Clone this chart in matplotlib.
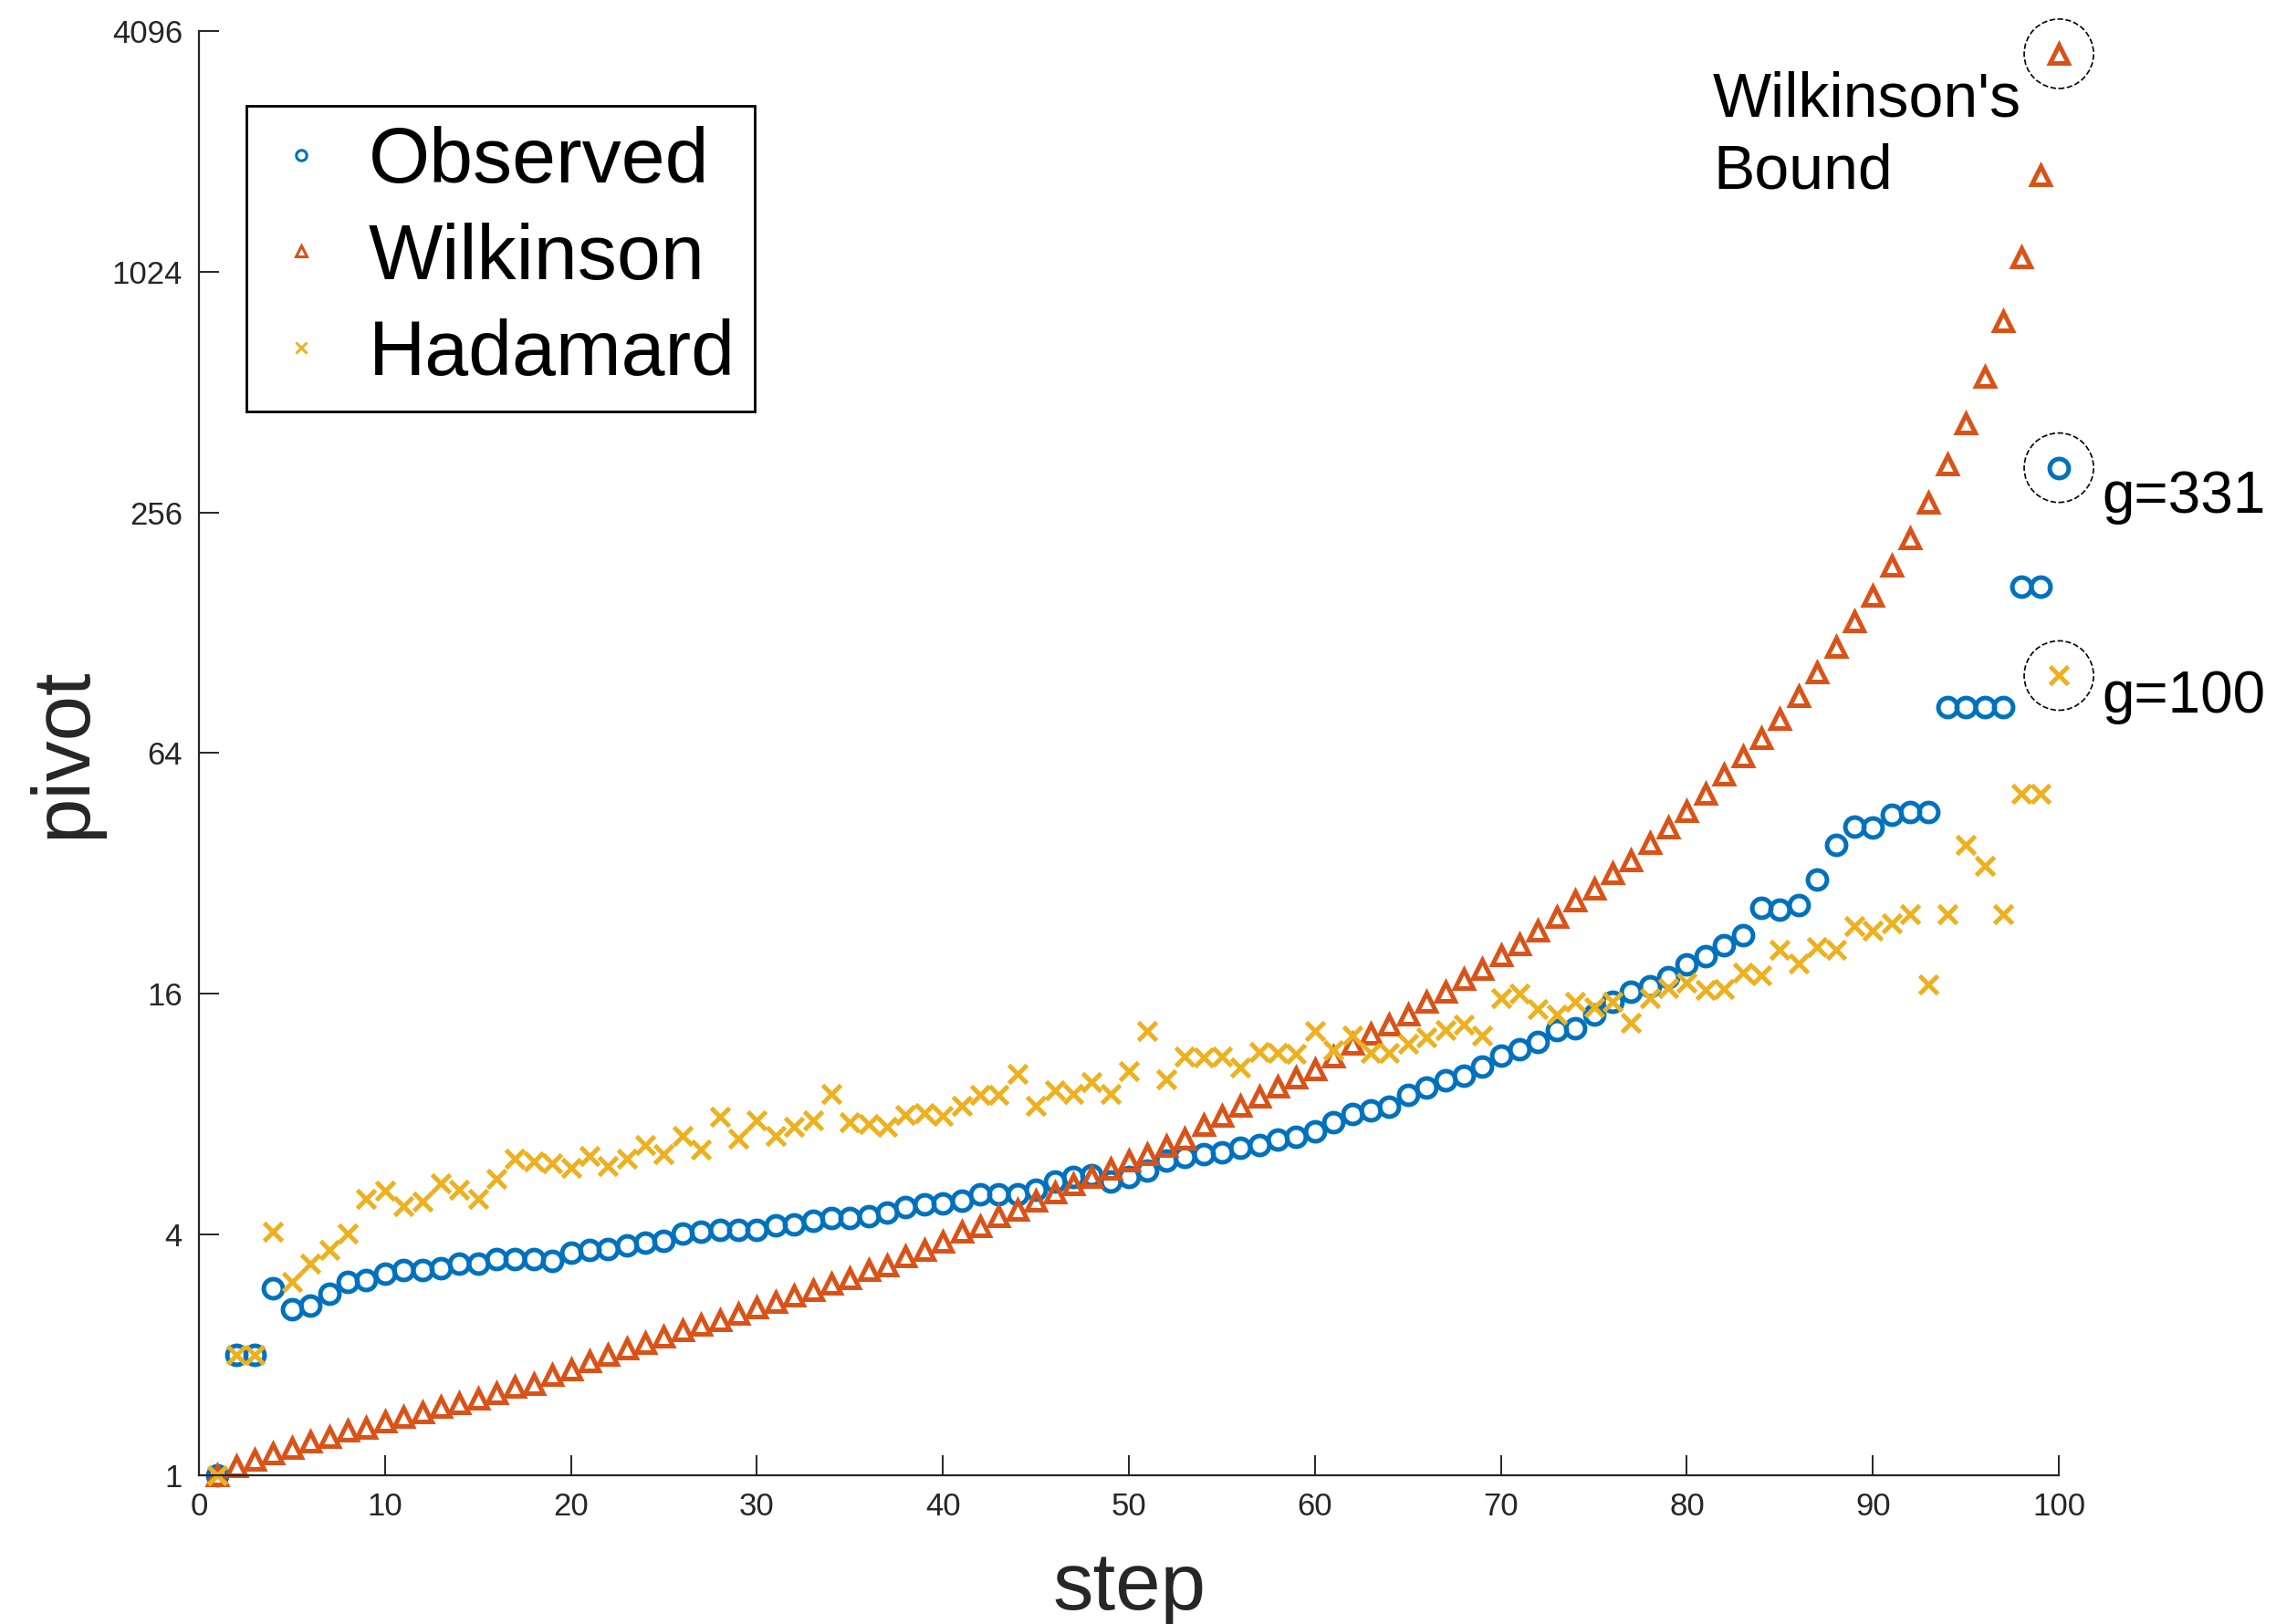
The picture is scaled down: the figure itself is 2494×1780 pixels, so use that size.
import matplotlib
matplotlib.use("Agg")
import matplotlib.pyplot as plt

plt.rcParams['font.family'] = ['Liberation Sans', 'DejaVu Sans']

# pivot size at each elimination step
steps = list(range(1, 101))

observed = [
    1, 2, 2, 2.94, 2.60, 2.65, 2.84, 3.04, 3.07, 3.20,
    3.26, 3.26, 3.29, 3.38, 3.38, 3.47, 3.47, 3.47, 3.43, 3.60,
    3.66, 3.68, 3.76, 3.82, 3.86, 4.03, 4.06, 4.10, 4.10, 4.10,
    4.21, 4.25, 4.32, 4.40, 4.40, 4.44, 4.55, 4.68, 4.76, 4.79,
    4.87, 5.05, 5.05, 5.05, 5.19, 5.43, 5.58, 5.62, 5.43, 5.58,
    5.79, 6.12, 6.24, 6.36, 6.41, 6.59, 6.71, 6.90, 7.03, 7.24,
    7.63, 8.02, 8.19, 8.35, 8.96, 9.33, 9.71, 10.0, 10.5, 11.2,
    11.6, 12.1, 13.0, 13.1, 14.2, 15.3, 16.2, 16.7, 17.6, 19.0,
    19.9, 21.2, 22.4, 26.3, 26.0, 26.7, 30.9, 37.8, 42.0, 41.6,
    44.9, 45.5, 45.5, 83.2, 83.2, 83.2, 83.2, 167, 167, 331,
]

wilkinson = [
    1, 1.055, 1.094, 1.133, 1.173, 1.214, 1.247, 1.292, 1.314, 1.360,
    1.397, 1.434, 1.484, 1.512, 1.552, 1.607, 1.664, 1.693, 1.778, 1.840,
    1.932, 2.0, 2.07, 2.145, 2.222, 2.30, 2.382, 2.445, 2.531, 2.624,
    2.717, 2.813, 2.898, 3.017, 3.117, 3.265, 3.352, 3.531, 3.658, 3.837,
    4.056, 4.196, 4.435, 4.602, 4.864, 5.091, 5.334, 5.583, 5.848, 6.122,
    6.355, 6.653, 6.964, 7.501, 7.923, 8.376, 8.852, 9.357, 9.885, 10.34,
    11.12, 11.99, 12.73, 13.39, 14.22, 15.26, 16.21, 17.39, 18.48, 20.01,
    21.26, 23.04, 24.97, 27.34, 29.33, 32.11, 34.44, 38.08, 41.67, 45.89,
    50.57, 56.42, 62.81, 69.89, 77.8, 89.0, 101.8, 117.9, 136.6, 158.7,
    188, 221, 271, 338, 428, 559, 770, 1113, 1783, 3590,
]

hadamard = [
    1, 2, 2, 4.06, 3.04, 3.38, 3.66, 4.03, 4.92, 5.15,
    4.71, 4.84, 5.38, 5.19, 4.92, 5.52, 6.19, 6.08, 6.02, 5.87,
    6.29, 5.92, 6.19, 6.69, 6.35, 7.05, 6.52, 7.90, 6.93, 7.70,
    7.05, 7.43, 7.70, 9.01, 7.63, 7.56, 7.43, 7.97, 8.04, 7.91,
    8.39, 8.93, 8.93, 10.07, 8.38, 9.18, 9.01, 9.61, 9.01, 10.25,
    12.92, 9.79, 11.14, 11.08, 11.14, 10.45, 11.46, 11.39, 11.31, 12.92,
    11.55, 12.61, 11.40, 11.40, 11.99, 12.48, 13.0, 13.39, 12.61, 15.57,
    16.06, 14.65, 14.22, 15.26, 14.83, 15.26, 13.53, 15.57, 16.54, 17.04,
    16.37, 16.45, 18.08, 17.83, 20.66, 19.07, 20.94, 20.66, 23.62, 22.99,
    23.95, 25.26, 16.90, 25.26, 37.77, 33.45, 25.26, 50.71, 50.71, 100,
]

x_ticks = [0, 10, 20, 30, 40, 50, 60, 70, 80, 90, 100]
y_ticks = [1, 4, 16, 64, 256, 1024, 4096]

blue = '#0072BD'
orange = '#D95319'
yellow = '#EDB120'
ink = '#262626'

fig = plt.figure(figsize=(24.94, 17.80), dpi=100)
ax = fig.add_axes([0.0874, 0.0916, 0.8172, 0.8894])

ax.plot(steps, observed, 'o', ls='none', ms=15, mew=3.6, mfc='none', mec=blue,
        label='Observed', clip_on=False)
ax.plot(steps, wilkinson, '^', ls='none', ms=15, mew=3.6, mfc='none', mec=orange,
        label='Wilkinson', clip_on=False)
ax.plot(steps, hadamard, 'x', ls='none', ms=15, mew=3.6, color=yellow,
        label='Hadamard', clip_on=False)

# dashed rings round the final pivots
ax.scatter([100, 100, 100], [wilkinson[-1], observed[-1], hadamard[-1]], s=3000,
           facecolors='none', edgecolors='black', linestyles='--', linewidths=1.2,
           clip_on=False, zorder=5)

ax.text(81.4, 3250, "Wilkinson's\nBound", fontsize=49, va='top', ha='left', linespacing=1.3)
ax.text(102.3, 256, "g=331", fontsize=46, va='baseline', ha='left')
ax.text(102.3, 81, "g=100", fontsize=46, va='baseline', ha='left')

ax.set_yscale('log', base=2)
ax.set_xlim(0, 100)
ax.set_ylim(1, 4096)
ax.set_xticks(x_ticks)
ax.set_yticks(y_ticks)
ax.set_xticklabels([str(t) for t in x_ticks])
ax.set_yticklabels([str(t) for t in y_ticks])
ax.minorticks_off()

for side in ['top', 'right']:
    ax.spines[side].set_visible(False)
for side in ['left', 'bottom']:
    ax.spines[side].set_color(ink)
    ax.spines[side].set_linewidth(1.6)

ax.tick_params(direction='in', length=16, width=1.4, colors=ink, labelsize=25)
ax.tick_params(axis='x', pad=13)
ax.tick_params(axis='y', pad=13)

ax.set_xlabel('step', fontsize=64, color=ink)
ax.set_ylabel('pivot', fontsize=64, color=ink)
ax.xaxis.set_label_coords(0.5, -0.052)
ax.yaxis.set_label_coords(-0.052, 0.5)

leg = ax.legend(loc='upper left', bbox_to_anchor=(0.0255, 0.948), borderaxespad=0,
                fontsize=62, markerscale=0.55, handlelength=0.9, handletextpad=0.4,
                borderpad=0.25, labelspacing=0.3, fancybox=False, framealpha=1)
leg.get_frame().set_edgecolor('black')
leg.get_frame().set_linewidth(2)
for h in leg.legend_handles:
    h.set_markeredgewidth(2.2)

fig.savefig('out.png', dpi=100, facecolor='white')
